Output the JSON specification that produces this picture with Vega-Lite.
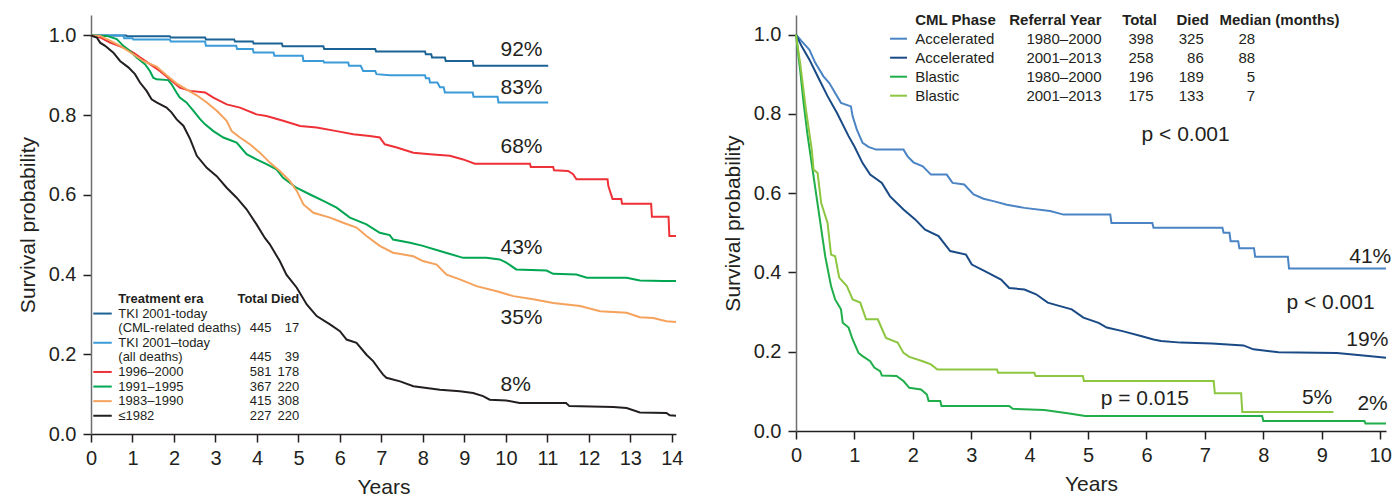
{
  "$schema": "https://vega.github.io/schema/vega-lite/v6.json",
  "background": "white",
  "padding": {"left": 17, "top": 12, "right": 5, "bottom": 0},
  "spacing": 39,
  "config": {
    "view": {"stroke": null},
    "font": "Liberation Sans",
    "axis": {
      "labelFont": "Liberation Sans", "labelFontSize": 20, "labelColor": "#231f20",
      "titleFont": "Liberation Sans", "titleFontSize": 21, "titleFontWeight": "normal", "titleColor": "#231f20",
      "grid": false, "tickSize": 8, "tickColor": "#231f20", "tickWidth": 1.5,
      "domainColor": "#231f20", "domainWidth": 1.5, "labelPadding": 6, "labelFlush": false, "labelOverlap": false
    }
  },
  "resolve": {"scale": {"color": "independent"}},
  "datasets": {
    "left_curves": [
      {"era": "TKI CML-related", "years": 0, "survival": 1.0},
      {"era": "TKI CML-related", "years": 0.85, "survival": 1.0},
      {"era": "TKI CML-related", "years": 0.87, "survival": 0.998},
      {"era": "TKI CML-related", "years": 1.9, "survival": 0.998},
      {"era": "TKI CML-related", "years": 1.92, "survival": 0.995},
      {"era": "TKI CML-related", "years": 2.75, "survival": 0.995},
      {"era": "TKI CML-related", "years": 2.77, "survival": 0.99},
      {"era": "TKI CML-related", "years": 3.45, "survival": 0.99},
      {"era": "TKI CML-related", "years": 3.47, "survival": 0.985},
      {"era": "TKI CML-related", "years": 3.9, "survival": 0.985},
      {"era": "TKI CML-related", "years": 3.92, "survival": 0.98},
      {"era": "TKI CML-related", "years": 4.6, "survival": 0.98},
      {"era": "TKI CML-related", "years": 4.62, "survival": 0.973},
      {"era": "TKI CML-related", "years": 5.6, "survival": 0.973},
      {"era": "TKI CML-related", "years": 5.62, "survival": 0.966},
      {"era": "TKI CML-related", "years": 6.85, "survival": 0.966},
      {"era": "TKI CML-related", "years": 6.87, "survival": 0.96},
      {"era": "TKI CML-related", "years": 8.05, "survival": 0.96},
      {"era": "TKI CML-related", "years": 8.07, "survival": 0.953},
      {"era": "TKI CML-related", "years": 8.2, "survival": 0.953},
      {"era": "TKI CML-related", "years": 8.22, "survival": 0.945},
      {"era": "TKI CML-related", "years": 8.53, "survival": 0.945},
      {"era": "TKI CML-related", "years": 8.55, "survival": 0.936},
      {"era": "TKI CML-related", "years": 9.2, "survival": 0.936},
      {"era": "TKI CML-related", "years": 9.22, "survival": 0.924},
      {"era": "TKI CML-related", "years": 11.02, "survival": 0.924},

      {"era": "TKI all deaths", "years": 0, "survival": 1.0},
      {"era": "TKI all deaths", "years": 0.78, "survival": 1.0},
      {"era": "TKI all deaths", "years": 0.8, "survival": 0.993},
      {"era": "TKI all deaths", "years": 1.0, "survival": 0.993},
      {"era": "TKI all deaths", "years": 1.02, "survival": 0.99},
      {"era": "TKI all deaths", "years": 1.9, "survival": 0.99},
      {"era": "TKI all deaths", "years": 1.92, "survival": 0.985},
      {"era": "TKI all deaths", "years": 2.75, "survival": 0.985},
      {"era": "TKI all deaths", "years": 2.77, "survival": 0.974},
      {"era": "TKI all deaths", "years": 3.5, "survival": 0.974},
      {"era": "TKI all deaths", "years": 3.52, "survival": 0.966},
      {"era": "TKI all deaths", "years": 3.9, "survival": 0.966},
      {"era": "TKI all deaths", "years": 3.92, "survival": 0.957},
      {"era": "TKI all deaths", "years": 4.4, "survival": 0.957},
      {"era": "TKI all deaths", "years": 4.42, "survival": 0.949},
      {"era": "TKI all deaths", "years": 5.1, "survival": 0.949},
      {"era": "TKI all deaths", "years": 5.12, "survival": 0.936},
      {"era": "TKI all deaths", "years": 5.6, "survival": 0.936},
      {"era": "TKI all deaths", "years": 5.62, "survival": 0.932},
      {"era": "TKI all deaths", "years": 6.2, "survival": 0.932},
      {"era": "TKI all deaths", "years": 6.22, "survival": 0.924},
      {"era": "TKI all deaths", "years": 6.5, "survival": 0.924},
      {"era": "TKI all deaths", "years": 6.56, "survival": 0.911},
      {"era": "TKI all deaths", "years": 6.85, "survival": 0.911},
      {"era": "TKI all deaths", "years": 6.88, "survival": 0.903},
      {"era": "TKI all deaths", "years": 7.2, "survival": 0.9},
      {"era": "TKI all deaths", "years": 8.05, "survival": 0.9},
      {"era": "TKI all deaths", "years": 8.07, "survival": 0.893},
      {"era": "TKI all deaths", "years": 8.15, "survival": 0.893},
      {"era": "TKI all deaths", "years": 8.17, "survival": 0.882},
      {"era": "TKI all deaths", "years": 8.35, "survival": 0.882},
      {"era": "TKI all deaths", "years": 8.41, "survival": 0.87},
      {"era": "TKI all deaths", "years": 8.5, "survival": 0.87},
      {"era": "TKI all deaths", "years": 8.53, "survival": 0.857},
      {"era": "TKI all deaths", "years": 9.2, "survival": 0.857},
      {"era": "TKI all deaths", "years": 9.22, "survival": 0.846},
      {"era": "TKI all deaths", "years": 9.8, "survival": 0.846},
      {"era": "TKI all deaths", "years": 9.82, "survival": 0.832},
      {"era": "TKI all deaths", "years": 11.02, "survival": 0.832},

      {"era": "1996–2000", "years": 0, "survival": 1.0},
      {"era": "1996–2000", "years": 0.22, "survival": 0.995},
      {"era": "1996–2000", "years": 0.46, "survival": 0.982},
      {"era": "1996–2000", "years": 0.78, "survival": 0.97},
      {"era": "1996–2000", "years": 1.02, "survival": 0.957},
      {"era": "1996–2000", "years": 1.18, "survival": 0.945},
      {"era": "1996–2000", "years": 1.42, "survival": 0.928},
      {"era": "1996–2000", "years": 1.66, "survival": 0.911},
      {"era": "1996–2000", "years": 1.9, "survival": 0.89},
      {"era": "1996–2000", "years": 2.14, "survival": 0.869},
      {"era": "1996–2000", "years": 2.39, "survival": 0.861},
      {"era": "1996–2000", "years": 2.75, "survival": 0.857},
      {"era": "1996–2000", "years": 2.95, "survival": 0.844},
      {"era": "1996–2000", "years": 3.27, "survival": 0.827},
      {"era": "1996–2000", "years": 3.59, "survival": 0.819},
      {"era": "1996–2000", "years": 3.99, "survival": 0.802},
      {"era": "1996–2000", "years": 4.23, "survival": 0.798},
      {"era": "1996–2000", "years": 4.63, "survival": 0.786},
      {"era": "1996–2000", "years": 5.04, "survival": 0.773},
      {"era": "1996–2000", "years": 5.44, "survival": 0.769},
      {"era": "1996–2000", "years": 5.92, "survival": 0.76},
      {"era": "1996–2000", "years": 6.32, "survival": 0.752},
      {"era": "1996–2000", "years": 6.72, "survival": 0.748},
      {"era": "1996–2000", "years": 6.96, "survival": 0.744},
      {"era": "1996–2000", "years": 7.08, "survival": 0.727},
      {"era": "1996–2000", "years": 7.37, "survival": 0.719},
      {"era": "1996–2000", "years": 7.77, "survival": 0.706},
      {"era": "1996–2000", "years": 8.17, "survival": 0.702},
      {"era": "1996–2000", "years": 8.65, "survival": 0.698},
      {"era": "1996–2000", "years": 8.97, "survival": 0.689},
      {"era": "1996–2000", "years": 9.25, "survival": 0.678},
      {"era": "1996–2000", "years": 10.58, "survival": 0.678},
      {"era": "1996–2000", "years": 10.6, "survival": 0.67},
      {"era": "1996–2000", "years": 11.14, "survival": 0.67},
      {"era": "1996–2000", "years": 11.16, "survival": 0.662},
      {"era": "1996–2000", "years": 11.5, "survival": 0.66},
      {"era": "1996–2000", "years": 11.62, "survival": 0.652},
      {"era": "1996–2000", "years": 11.7, "survival": 0.639},
      {"era": "1996–2000", "years": 12.45, "survival": 0.639},
      {"era": "1996–2000", "years": 12.47, "survival": 0.622},
      {"era": "1996–2000", "years": 12.52, "survival": 0.606},
      {"era": "1996–2000", "years": 12.57, "survival": 0.59},
      {"era": "1996–2000", "years": 12.78, "survival": 0.59},
      {"era": "1996–2000", "years": 12.8, "survival": 0.578},
      {"era": "1996–2000", "years": 13.5, "survival": 0.578},
      {"era": "1996–2000", "years": 13.52, "survival": 0.545},
      {"era": "1996–2000", "years": 13.92, "survival": 0.545},
      {"era": "1996–2000", "years": 13.94, "survival": 0.497},
      {"era": "1996–2000", "years": 14.1, "survival": 0.497},

      {"era": "1991–1995", "years": 0, "survival": 1.0},
      {"era": "1991–1995", "years": 0.38, "survival": 0.999},
      {"era": "1991–1995", "years": 0.62, "survival": 0.991},
      {"era": "1991–1995", "years": 0.78, "survival": 0.974},
      {"era": "1991–1995", "years": 0.94, "survival": 0.961},
      {"era": "1991–1995", "years": 1.1, "survival": 0.945},
      {"era": "1991–1995", "years": 1.3, "survival": 0.928},
      {"era": "1991–1995", "years": 1.42, "survival": 0.911},
      {"era": "1991–1995", "years": 1.5, "survival": 0.894},
      {"era": "1991–1995", "years": 1.58, "survival": 0.89},
      {"era": "1991–1995", "years": 1.86, "survival": 0.888},
      {"era": "1991–1995", "years": 1.94, "survival": 0.878},
      {"era": "1991–1995", "years": 2.06, "survival": 0.857},
      {"era": "1991–1995", "years": 2.14, "survival": 0.844},
      {"era": "1991–1995", "years": 2.3, "survival": 0.832},
      {"era": "1991–1995", "years": 2.47, "survival": 0.811},
      {"era": "1991–1995", "years": 2.63, "survival": 0.79},
      {"era": "1991–1995", "years": 2.75, "survival": 0.777},
      {"era": "1991–1995", "years": 2.95, "survival": 0.76},
      {"era": "1991–1995", "years": 3.19, "survival": 0.744},
      {"era": "1991–1995", "years": 3.51, "survival": 0.731},
      {"era": "1991–1995", "years": 3.75, "survival": 0.702},
      {"era": "1991–1995", "years": 3.99, "survival": 0.689},
      {"era": "1991–1995", "years": 4.23, "survival": 0.677},
      {"era": "1991–1995", "years": 4.47, "survival": 0.664},
      {"era": "1991–1995", "years": 4.63, "survival": 0.643},
      {"era": "1991–1995", "years": 4.95, "survival": 0.618},
      {"era": "1991–1995", "years": 5.28, "survival": 0.601},
      {"era": "1991–1995", "years": 5.6, "survival": 0.585},
      {"era": "1991–1995", "years": 5.92, "survival": 0.568},
      {"era": "1991–1995", "years": 6.24, "survival": 0.543},
      {"era": "1991–1995", "years": 6.64, "survival": 0.526},
      {"era": "1991–1995", "years": 6.96, "survival": 0.505},
      {"era": "1991–1995", "years": 7.2, "survival": 0.499},
      {"era": "1991–1995", "years": 7.28, "survival": 0.488},
      {"era": "1991–1995", "years": 7.69, "survival": 0.48},
      {"era": "1991–1995", "years": 8.0, "survival": 0.472},
      {"era": "1991–1995", "years": 8.41, "survival": 0.459},
      {"era": "1991–1995", "years": 8.97, "survival": 0.442},
      {"era": "1991–1995", "years": 9.53, "survival": 0.442},
      {"era": "1991–1995", "years": 9.85, "survival": 0.438},
      {"era": "1991–1995", "years": 10.01, "survival": 0.43},
      {"era": "1991–1995", "years": 10.25, "survival": 0.413},
      {"era": "1991–1995", "years": 10.98, "survival": 0.41},
      {"era": "1991–1995", "years": 11.14, "survival": 0.402},
      {"era": "1991–1995", "years": 11.7, "survival": 0.4},
      {"era": "1991–1995", "years": 11.95, "survival": 0.392},
      {"era": "1991–1995", "years": 12.91, "survival": 0.392},
      {"era": "1991–1995", "years": 13.23, "survival": 0.385},
      {"era": "1991–1995", "years": 13.79, "survival": 0.384},
      {"era": "1991–1995", "years": 14.1, "survival": 0.384},

      {"era": "1983–1990", "years": 0, "survival": 1.0},
      {"era": "1983–1990", "years": 0.22, "survival": 0.999},
      {"era": "1983–1990", "years": 0.46, "survival": 0.987},
      {"era": "1983–1990", "years": 0.7, "survival": 0.974},
      {"era": "1983–1990", "years": 1.02, "survival": 0.953},
      {"era": "1983–1990", "years": 1.26, "survival": 0.936},
      {"era": "1983–1990", "years": 1.58, "survival": 0.922},
      {"era": "1983–1990", "years": 1.82, "survival": 0.9},
      {"era": "1983–1990", "years": 2.06, "survival": 0.88},
      {"era": "1983–1990", "years": 2.3, "survival": 0.865},
      {"era": "1983–1990", "years": 2.55, "survival": 0.85},
      {"era": "1983–1990", "years": 2.79, "survival": 0.832},
      {"era": "1983–1990", "years": 3.03, "survival": 0.811},
      {"era": "1983–1990", "years": 3.27, "survival": 0.786},
      {"era": "1983–1990", "years": 3.39, "survival": 0.76},
      {"era": "1983–1990", "years": 3.59, "survival": 0.744},
      {"era": "1983–1990", "years": 3.83, "survival": 0.727},
      {"era": "1983–1990", "years": 4.07, "survival": 0.706},
      {"era": "1983–1990", "years": 4.31, "survival": 0.681},
      {"era": "1983–1990", "years": 4.55, "survival": 0.66},
      {"era": "1983–1990", "years": 4.79, "survival": 0.635},
      {"era": "1983–1990", "years": 4.96, "survival": 0.61},
      {"era": "1983–1990", "years": 5.12, "survival": 0.576},
      {"era": "1983–1990", "years": 5.36, "survival": 0.555},
      {"era": "1983–1990", "years": 5.76, "survival": 0.543},
      {"era": "1983–1990", "years": 6.08, "survival": 0.53},
      {"era": "1983–1990", "years": 6.4, "survival": 0.518},
      {"era": "1983–1990", "years": 6.64, "survival": 0.497},
      {"era": "1983–1990", "years": 6.96, "survival": 0.472},
      {"era": "1983–1990", "years": 7.28, "survival": 0.455},
      {"era": "1983–1990", "years": 7.77, "survival": 0.446},
      {"era": "1983–1990", "years": 8.0, "survival": 0.434},
      {"era": "1983–1990", "years": 8.33, "survival": 0.425},
      {"era": "1983–1990", "years": 8.57, "survival": 0.4},
      {"era": "1983–1990", "years": 8.89, "survival": 0.388},
      {"era": "1983–1990", "years": 9.29, "survival": 0.371},
      {"era": "1983–1990", "years": 9.78, "survival": 0.358},
      {"era": "1983–1990", "years": 10.18, "survival": 0.346},
      {"era": "1983–1990", "years": 10.66, "survival": 0.338},
      {"era": "1983–1990", "years": 11.14, "survival": 0.329},
      {"era": "1983–1990", "years": 11.79, "survival": 0.321},
      {"era": "1983–1990", "years": 12.27, "survival": 0.308},
      {"era": "1983–1990", "years": 12.91, "survival": 0.304},
      {"era": "1983–1990", "years": 13.23, "survival": 0.293},
      {"era": "1983–1990", "years": 13.55, "survival": 0.291},
      {"era": "1983–1990", "years": 13.87, "survival": 0.283},
      {"era": "1983–1990", "years": 14.1, "survival": 0.281},

      {"era": "≤1982", "years": 0, "survival": 1.0},
      {"era": "≤1982", "years": 0.14, "survival": 0.995},
      {"era": "≤1982", "years": 0.22, "survival": 0.982},
      {"era": "≤1982", "years": 0.34, "survival": 0.974},
      {"era": "≤1982", "years": 0.54, "survival": 0.957},
      {"era": "≤1982", "years": 0.7, "survival": 0.936},
      {"era": "≤1982", "years": 0.9, "survival": 0.92},
      {"era": "≤1982", "years": 1.06, "survival": 0.903},
      {"era": "≤1982", "years": 1.18, "survival": 0.882},
      {"era": "≤1982", "years": 1.34, "survival": 0.861},
      {"era": "≤1982", "years": 1.46, "survival": 0.84},
      {"era": "≤1982", "years": 1.58, "survival": 0.832},
      {"era": "≤1982", "years": 1.82, "survival": 0.819},
      {"era": "≤1982", "years": 1.94, "survival": 0.807},
      {"era": "≤1982", "years": 2.06, "survival": 0.79},
      {"era": "≤1982", "years": 2.23, "survival": 0.773},
      {"era": "≤1982", "years": 2.39, "survival": 0.74},
      {"era": "≤1982", "years": 2.55, "survival": 0.698},
      {"era": "≤1982", "years": 2.79, "survival": 0.668},
      {"era": "≤1982", "years": 3.03, "survival": 0.647},
      {"era": "≤1982", "years": 3.27, "survival": 0.618},
      {"era": "≤1982", "years": 3.51, "survival": 0.593},
      {"era": "≤1982", "years": 3.75, "survival": 0.564},
      {"era": "≤1982", "years": 3.99, "survival": 0.526},
      {"era": "≤1982", "years": 4.19, "survival": 0.492},
      {"era": "≤1982", "years": 4.31, "survival": 0.476},
      {"era": "≤1982", "years": 4.55, "survival": 0.434},
      {"era": "≤1982", "years": 4.71, "survival": 0.4},
      {"era": "≤1982", "years": 4.96, "survival": 0.367},
      {"era": "≤1982", "years": 5.2, "survival": 0.325},
      {"era": "≤1982", "years": 5.44, "survival": 0.296},
      {"era": "≤1982", "years": 5.76, "survival": 0.275},
      {"era": "≤1982", "years": 6.0, "survival": 0.258},
      {"era": "≤1982", "years": 6.16, "survival": 0.237},
      {"era": "≤1982", "years": 6.4, "survival": 0.229},
      {"era": "≤1982", "years": 6.64, "survival": 0.199},
      {"era": "≤1982", "years": 6.8, "survival": 0.183},
      {"era": "≤1982", "years": 6.96, "survival": 0.16},
      {"era": "≤1982", "years": 7.04, "survival": 0.149},
      {"era": "≤1982", "years": 7.12, "survival": 0.141},
      {"era": "≤1982", "years": 7.45, "survival": 0.132},
      {"era": "≤1982", "years": 7.77, "survival": 0.12},
      {"era": "≤1982", "years": 8.41, "survival": 0.111},
      {"era": "≤1982", "years": 8.89, "survival": 0.107},
      {"era": "≤1982", "years": 9.21, "survival": 0.103},
      {"era": "≤1982", "years": 9.45, "survival": 0.095},
      {"era": "≤1982", "years": 9.61, "survival": 0.086},
      {"era": "≤1982", "years": 10.01, "survival": 0.084},
      {"era": "≤1982", "years": 10.33, "survival": 0.078},
      {"era": "≤1982", "years": 11.45, "survival": 0.078},
      {"era": "≤1982", "years": 11.53, "survival": 0.07},
      {"era": "≤1982", "years": 12.59, "survival": 0.068},
      {"era": "≤1982", "years": 12.91, "survival": 0.065},
      {"era": "≤1982", "years": 13.23, "survival": 0.054},
      {"era": "≤1982", "years": 13.87, "survival": 0.053},
      {"era": "≤1982", "years": 13.95, "survival": 0.047},
      {"era": "≤1982", "years": 14.1, "survival": 0.046}
    ],
    "left_labels": [
      {"label": "92%", "years": 9.87, "survival": 0.963},
      {"label": "83%", "years": 9.87, "survival": 0.869},
      {"label": "68%", "years": 9.87, "survival": 0.719},
      {"label": "43%", "years": 9.87, "survival": 0.466},
      {"label": "35%", "years": 9.87, "survival": 0.291},
      {"label": "8%", "years": 9.87, "survival": 0.124}
    ],
    "left_legend": [
      {"line": 1, "label": "TKI 2001-today", "era": "TKI CML-related"},
      {"line": 2, "label": "(CML-related deaths)", "total": "445", "died": "17"},
      {"line": 3, "label": "TKI 2001–today", "era": "TKI all deaths"},
      {"line": 4, "label": "(all deaths)", "total": "445", "died": "39"},
      {"line": 5, "label": "1996–2000", "era": "1996–2000", "total": "581", "died": "178"},
      {"line": 6, "label": "1991–1995", "era": "1991–1995", "total": "367", "died": "220"},
      {"line": 7, "label": "1983–1990", "era": "1983–1990", "total": "415", "died": "308"},
      {"line": 8, "label": "≤1982", "era": "≤1982", "total": "227", "died": "220"}
    ],
    "right_curves": [
      {"group": "Accelerated 1980–2000", "years": 0, "survival": 1.0},
      {"group": "Accelerated 1980–2000", "years": 0.1, "survival": 0.983},
      {"group": "Accelerated 1980–2000", "years": 0.23, "survival": 0.962},
      {"group": "Accelerated 1980–2000", "years": 0.33, "survival": 0.929},
      {"group": "Accelerated 1980–2000", "years": 0.47, "survival": 0.895},
      {"group": "Accelerated 1980–2000", "years": 0.57, "survival": 0.878},
      {"group": "Accelerated 1980–2000", "years": 0.77, "survival": 0.828},
      {"group": "Accelerated 1980–2000", "years": 0.94, "survival": 0.819},
      {"group": "Accelerated 1980–2000", "years": 0.97, "survival": 0.794},
      {"group": "Accelerated 1980–2000", "years": 1.04, "survival": 0.761},
      {"group": "Accelerated 1980–2000", "years": 1.14, "survival": 0.727},
      {"group": "Accelerated 1980–2000", "years": 1.24, "survival": 0.717},
      {"group": "Accelerated 1980–2000", "years": 1.37, "survival": 0.71},
      {"group": "Accelerated 1980–2000", "years": 1.84, "survival": 0.71},
      {"group": "Accelerated 1980–2000", "years": 1.91, "survival": 0.693},
      {"group": "Accelerated 1980–2000", "years": 2.01, "survival": 0.678},
      {"group": "Accelerated 1980–2000", "years": 2.17, "survival": 0.668},
      {"group": "Accelerated 1980–2000", "years": 2.31, "survival": 0.647},
      {"group": "Accelerated 1980–2000", "years": 2.58, "survival": 0.647},
      {"group": "Accelerated 1980–2000", "years": 2.68, "survival": 0.626},
      {"group": "Accelerated 1980–2000", "years": 2.88, "survival": 0.622},
      {"group": "Accelerated 1980–2000", "years": 3.04, "survival": 0.597},
      {"group": "Accelerated 1980–2000", "years": 3.21, "survival": 0.586},
      {"group": "Accelerated 1980–2000", "years": 3.38, "survival": 0.58},
      {"group": "Accelerated 1980–2000", "years": 3.61, "survival": 0.571},
      {"group": "Accelerated 1980–2000", "years": 3.91, "survival": 0.563},
      {"group": "Accelerated 1980–2000", "years": 4.35, "survival": 0.555},
      {"group": "Accelerated 1980–2000", "years": 4.58, "survival": 0.546},
      {"group": "Accelerated 1980–2000", "years": 5.38, "survival": 0.546},
      {"group": "Accelerated 1980–2000", "years": 5.4, "survival": 0.525},
      {"group": "Accelerated 1980–2000", "years": 6.1, "survival": 0.525},
      {"group": "Accelerated 1980–2000", "years": 6.12, "survival": 0.513},
      {"group": "Accelerated 1980–2000", "years": 7.3, "survival": 0.513},
      {"group": "Accelerated 1980–2000", "years": 7.32, "survival": 0.5},
      {"group": "Accelerated 1980–2000", "years": 7.42, "survival": 0.5},
      {"group": "Accelerated 1980–2000", "years": 7.44, "survival": 0.479},
      {"group": "Accelerated 1980–2000", "years": 7.57, "survival": 0.479},
      {"group": "Accelerated 1980–2000", "years": 7.59, "survival": 0.461},
      {"group": "Accelerated 1980–2000", "years": 7.84, "survival": 0.461},
      {"group": "Accelerated 1980–2000", "years": 7.86, "survival": 0.44},
      {"group": "Accelerated 1980–2000", "years": 8.42, "survival": 0.44},
      {"group": "Accelerated 1980–2000", "years": 8.44, "survival": 0.41},
      {"group": "Accelerated 1980–2000", "years": 10.1, "survival": 0.41},

      {"group": "Accelerated 2001–2013", "years": 0, "survival": 1.0},
      {"group": "Accelerated 2001–2013", "years": 0.1, "survival": 0.97},
      {"group": "Accelerated 2001–2013", "years": 0.23, "survival": 0.937},
      {"group": "Accelerated 2001–2013", "years": 0.37, "survival": 0.895},
      {"group": "Accelerated 2001–2013", "years": 0.54, "survival": 0.845},
      {"group": "Accelerated 2001–2013", "years": 0.7, "survival": 0.803},
      {"group": "Accelerated 2001–2013", "years": 0.9, "survival": 0.744},
      {"group": "Accelerated 2001–2013", "years": 1.0, "survival": 0.718},
      {"group": "Accelerated 2001–2013", "years": 1.14, "survival": 0.676},
      {"group": "Accelerated 2001–2013", "years": 1.27, "survival": 0.647},
      {"group": "Accelerated 2001–2013", "years": 1.47, "survival": 0.626},
      {"group": "Accelerated 2001–2013", "years": 1.61, "survival": 0.592},
      {"group": "Accelerated 2001–2013", "years": 1.84, "survival": 0.559},
      {"group": "Accelerated 2001–2013", "years": 2.04, "survival": 0.534},
      {"group": "Accelerated 2001–2013", "years": 2.21, "survival": 0.508},
      {"group": "Accelerated 2001–2013", "years": 2.44, "survival": 0.492},
      {"group": "Accelerated 2001–2013", "years": 2.64, "survival": 0.454},
      {"group": "Accelerated 2001–2013", "years": 2.91, "survival": 0.445},
      {"group": "Accelerated 2001–2013", "years": 3.01, "survival": 0.42},
      {"group": "Accelerated 2001–2013", "years": 3.24, "survival": 0.403},
      {"group": "Accelerated 2001–2013", "years": 3.51, "survival": 0.382},
      {"group": "Accelerated 2001–2013", "years": 3.65, "survival": 0.361},
      {"group": "Accelerated 2001–2013", "years": 3.91, "survival": 0.357},
      {"group": "Accelerated 2001–2013", "years": 4.11, "survival": 0.345},
      {"group": "Accelerated 2001–2013", "years": 4.31, "survival": 0.324},
      {"group": "Accelerated 2001–2013", "years": 4.52, "survival": 0.315},
      {"group": "Accelerated 2001–2013", "years": 4.72, "survival": 0.307},
      {"group": "Accelerated 2001–2013", "years": 4.92, "survival": 0.286},
      {"group": "Accelerated 2001–2013", "years": 5.18, "survival": 0.273},
      {"group": "Accelerated 2001–2013", "years": 5.32, "survival": 0.261},
      {"group": "Accelerated 2001–2013", "years": 5.59, "survival": 0.252},
      {"group": "Accelerated 2001–2013", "years": 5.92, "survival": 0.239},
      {"group": "Accelerated 2001–2013", "years": 6.12, "survival": 0.231},
      {"group": "Accelerated 2001–2013", "years": 6.25, "survival": 0.227},
      {"group": "Accelerated 2001–2013", "years": 6.59, "survival": 0.223},
      {"group": "Accelerated 2001–2013", "years": 7.12, "survival": 0.221},
      {"group": "Accelerated 2001–2013", "years": 7.66, "survival": 0.216},
      {"group": "Accelerated 2001–2013", "years": 7.83, "survival": 0.206},
      {"group": "Accelerated 2001–2013", "years": 8.26, "survival": 0.199},
      {"group": "Accelerated 2001–2013", "years": 9.26, "survival": 0.197},
      {"group": "Accelerated 2001–2013", "years": 9.8, "survival": 0.189},
      {"group": "Accelerated 2001–2013", "years": 10.1, "survival": 0.185},

      {"group": "Blastic 1980–2000", "years": 0, "survival": 1.0},
      {"group": "Blastic 1980–2000", "years": 0.07, "survival": 0.912},
      {"group": "Blastic 1980–2000", "years": 0.13, "survival": 0.828},
      {"group": "Blastic 1980–2000", "years": 0.2, "survival": 0.744},
      {"group": "Blastic 1980–2000", "years": 0.3, "survival": 0.643},
      {"group": "Blastic 1980–2000", "years": 0.4, "survival": 0.542},
      {"group": "Blastic 1980–2000", "years": 0.5, "survival": 0.441},
      {"group": "Blastic 1980–2000", "years": 0.6, "survival": 0.366},
      {"group": "Blastic 1980–2000", "years": 0.67, "survival": 0.332},
      {"group": "Blastic 1980–2000", "years": 0.77, "survival": 0.307},
      {"group": "Blastic 1980–2000", "years": 0.8, "survival": 0.273},
      {"group": "Blastic 1980–2000", "years": 0.9, "survival": 0.261},
      {"group": "Blastic 1980–2000", "years": 0.97, "survival": 0.231},
      {"group": "Blastic 1980–2000", "years": 1.07, "survival": 0.197},
      {"group": "Blastic 1980–2000", "years": 1.14, "survival": 0.189},
      {"group": "Blastic 1980–2000", "years": 1.27, "survival": 0.176},
      {"group": "Blastic 1980–2000", "years": 1.34, "survival": 0.16},
      {"group": "Blastic 1980–2000", "years": 1.44, "survival": 0.151},
      {"group": "Blastic 1980–2000", "years": 1.47, "survival": 0.14},
      {"group": "Blastic 1980–2000", "years": 1.72, "survival": 0.139},
      {"group": "Blastic 1980–2000", "years": 1.84, "survival": 0.126},
      {"group": "Blastic 1980–2000", "years": 1.94, "survival": 0.109},
      {"group": "Blastic 1980–2000", "years": 2.14, "survival": 0.105},
      {"group": "Blastic 1980–2000", "years": 2.24, "survival": 0.092},
      {"group": "Blastic 1980–2000", "years": 2.27, "survival": 0.076},
      {"group": "Blastic 1980–2000", "years": 2.47, "survival": 0.076},
      {"group": "Blastic 1980–2000", "years": 2.49, "survival": 0.063},
      {"group": "Blastic 1980–2000", "years": 3.65, "survival": 0.063},
      {"group": "Blastic 1980–2000", "years": 3.71, "survival": 0.056},
      {"group": "Blastic 1980–2000", "years": 4.25, "survival": 0.053},
      {"group": "Blastic 1980–2000", "years": 4.65, "survival": 0.045},
      {"group": "Blastic 1980–2000", "years": 4.95, "survival": 0.038},
      {"group": "Blastic 1980–2000", "years": 7.98, "survival": 0.038},
      {"group": "Blastic 1980–2000", "years": 8.0, "survival": 0.025},
      {"group": "Blastic 1980–2000", "years": 9.73, "survival": 0.025},
      {"group": "Blastic 1980–2000", "years": 9.75, "survival": 0.019},
      {"group": "Blastic 1980–2000", "years": 10.1, "survival": 0.019},

      {"group": "Blastic 2001–2013", "years": 0, "survival": 1.0},
      {"group": "Blastic 2001–2013", "years": 0.07, "survival": 0.929},
      {"group": "Blastic 2001–2013", "years": 0.17, "survival": 0.811},
      {"group": "Blastic 2001–2013", "years": 0.27, "survival": 0.71},
      {"group": "Blastic 2001–2013", "years": 0.3, "survival": 0.66},
      {"group": "Blastic 2001–2013", "years": 0.37, "survival": 0.651},
      {"group": "Blastic 2001–2013", "years": 0.43, "survival": 0.576},
      {"group": "Blastic 2001–2013", "years": 0.54, "survival": 0.525},
      {"group": "Blastic 2001–2013", "years": 0.6, "survival": 0.445},
      {"group": "Blastic 2001–2013", "years": 0.67, "survival": 0.441},
      {"group": "Blastic 2001–2013", "years": 0.74, "survival": 0.387},
      {"group": "Blastic 2001–2013", "years": 0.87, "survival": 0.366},
      {"group": "Blastic 2001–2013", "years": 0.97, "survival": 0.332},
      {"group": "Blastic 2001–2013", "years": 1.1, "survival": 0.324},
      {"group": "Blastic 2001–2013", "years": 1.2, "survival": 0.282},
      {"group": "Blastic 2001–2013", "years": 1.4, "survival": 0.282},
      {"group": "Blastic 2001–2013", "years": 1.54, "survival": 0.235},
      {"group": "Blastic 2001–2013", "years": 1.74, "survival": 0.223},
      {"group": "Blastic 2001–2013", "years": 1.84, "survival": 0.197},
      {"group": "Blastic 2001–2013", "years": 1.94, "survival": 0.187},
      {"group": "Blastic 2001–2013", "years": 2.17, "survival": 0.176},
      {"group": "Blastic 2001–2013", "years": 2.31, "survival": 0.168},
      {"group": "Blastic 2001–2013", "years": 2.42, "survival": 0.155},
      {"group": "Blastic 2001–2013", "years": 3.44, "survival": 0.155},
      {"group": "Blastic 2001–2013", "years": 3.46, "survival": 0.147},
      {"group": "Blastic 2001–2013", "years": 4.08, "survival": 0.147},
      {"group": "Blastic 2001–2013", "years": 4.1, "survival": 0.139},
      {"group": "Blastic 2001–2013", "years": 4.91, "survival": 0.139},
      {"group": "Blastic 2001–2013", "years": 4.93, "survival": 0.126},
      {"group": "Blastic 2001–2013", "years": 7.15, "survival": 0.126},
      {"group": "Blastic 2001–2013", "years": 7.17, "survival": 0.095},
      {"group": "Blastic 2001–2013", "years": 7.62, "survival": 0.095},
      {"group": "Blastic 2001–2013", "years": 7.64, "survival": 0.048},
      {"group": "Blastic 2001–2013", "years": 9.2, "survival": 0.048}
    ],
    "right_labels": [
      {"label": "41%", "years": 9.83, "survival": 0.44},
      {"label": "19%", "years": 9.78, "survival": 0.229},
      {"label": "2%", "years": 9.87, "survival": 0.067},
      {"label": "5%", "years": 8.92, "survival": 0.084},
      {"label": "p < 0.001", "years": 6.67, "survival": 0.748},
      {"label": "p < 0.001", "years": 9.15, "survival": 0.322},
      {"label": "p = 0.015", "years": 5.97, "survival": 0.08}
    ],
    "right_legend": [
      {"line": 1, "phase": "Accelerated", "year": "1980–2000", "total": "398", "died": "325", "median": "28", "group": "Accelerated 1980–2000"},
      {"line": 2, "phase": "Accelerated", "year": "2001–2013", "total": "258", "died": "86", "median": "88", "group": "Accelerated 2001–2013"},
      {"line": 3, "phase": "Blastic", "year": "1980–2000", "total": "196", "died": "189", "median": "5", "group": "Blastic 1980–2000"},
      {"line": 4, "phase": "Blastic", "year": "2001–2013", "total": "175", "died": "133", "median": "7", "group": "Blastic 2001–2013"}
    ]
  },
  "hconcat": [
    {
      "width": 585,
      "height": 419,
      "resolve": {"scale": {"y": "independent"}},
      "layer": [
        {
          "layer": [
            {
              "data": {"name": "left_curves"},
              "mark": {"type": "line", "strokeWidth": 2, "interpolate": "linear"},
              "encoding": {
                "x": {"field": "years", "type": "quantitative",
                  "scale": {"domain": [0, 14.1], "nice": false, "zero": false},
                  "axis": {"title": "Years", "values": [0,1,2,3,4,5,6,7,8,9,10,11,12,13,14], "format": "d", "titlePadding": 8}},
                "y": {"field": "survival", "type": "quantitative",
                  "scale": {"domain": [0, 1.0514], "nice": false, "zero": false},
                  "axis": {"title": "Survival probability", "values": [0,0.2,0.4,0.6,0.8,1.0], "format": ".1f", "titlePadding": 10, "domainColor": "#6d6e71", "labelPadding": 7}},
                "color": {"field": "era", "type": "nominal", "legend": null,
                  "scale": {"domain": ["TKI CML-related","TKI all deaths","1996–2000","1991–1995","1983–1990","≤1982"],
                            "range": ["#1c6395","#3b9bd8","#ee3136","#00a651","#f5a25d","#231f20"]}}
              }
            },
            {
              "data": {"name": "left_labels"},
              "mark": {"type": "text", "align": "left", "baseline": "middle", "fontSize": 21, "font": "Liberation Sans", "color": "#231f20"},
              "encoding": {
                "x": {"field": "years", "type": "quantitative"},
                "y": {"field": "survival", "type": "quantitative"},
                "text": {"field": "label"}
              }
            }
          ]
        },
        {
          "layer": [
            {
              "data": {"name": "left_legend"},
              "transform": [{"filter": "isValid(datum.era)"}],
              "mark": {"type": "rule", "strokeWidth": 2},
              "encoding": {
                "x": {"datum": 0.055, "type": "quantitative"},
                "x2": {"datum": 0.5},
                "y": {"field": "line", "type": "quantitative", "axis": null,
                  "scale": {"domain": [-19.45, 9.25], "reverse": true, "nice": false, "zero": false}},
                "color": {"field": "era", "type": "nominal", "legend": null}
              }
            },
            {
              "data": {"name": "left_legend"},
              "mark": {"type": "text", "align": "left", "baseline": "middle", "fontSize": 13, "font": "Liberation Sans", "color": "#231f20"},
              "encoding": {
                "x": {"datum": 0.658, "type": "quantitative"},
                "y": {"field": "line", "type": "quantitative", "axis": null},
                "text": {"field": "label"}
              }
            },
            {
              "data": {"name": "left_legend"},
              "transform": [{"filter": "isValid(datum.total)"}],
              "mark": {"type": "text", "align": "right", "baseline": "middle", "fontSize": 13, "font": "Liberation Sans", "color": "#231f20"},
              "encoding": {
                "x": {"datum": 4.35, "type": "quantitative"},
                "y": {"field": "line", "type": "quantitative", "axis": null},
                "text": {"field": "total"}
              }
            },
            {
              "data": {"name": "left_legend"},
              "transform": [{"filter": "isValid(datum.died)"}],
              "mark": {"type": "text", "align": "right", "baseline": "middle", "fontSize": 13, "font": "Liberation Sans", "color": "#231f20"},
              "encoding": {
                "x": {"datum": 5.02, "type": "quantitative"},
                "y": {"field": "line", "type": "quantitative", "axis": null},
                "text": {"field": "died"}
              }
            },
            {
              "data": {"values": [{"line": 0, "head": "Treatment era"}]},
              "mark": {"type": "text", "align": "left", "baseline": "middle", "fontSize": 13, "fontWeight": "bold", "font": "Liberation Sans", "color": "#231f20"},
              "encoding": {
                "x": {"datum": 0.658, "type": "quantitative"},
                "y": {"field": "line", "type": "quantitative", "axis": null},
                "text": {"field": "head"}
              }
            },
            {
              "data": {"values": [{"line": 0, "head": "Total Died"}]},
              "mark": {"type": "text", "align": "right", "baseline": "middle", "fontSize": 13, "fontWeight": "bold", "font": "Liberation Sans", "color": "#231f20"},
              "encoding": {
                "x": {"datum": 5.02, "type": "quantitative"},
                "y": {"field": "line", "type": "quantitative", "axis": null},
                "text": {"field": "head"}
              }
            }
          ]
        }
      ]
    },
    {
      "width": 590,
      "height": 416,
      "resolve": {"scale": {"y": "independent"}},
      "layer": [
        {
          "layer": [
            {
              "data": {"name": "right_curves"},
              "mark": {"type": "line", "strokeWidth": 2, "interpolate": "linear"},
              "encoding": {
                "x": {"field": "years", "type": "quantitative",
                  "scale": {"domain": [0, 10.1], "nice": false, "zero": false},
                  "axis": {"title": "Years", "values": [0,1,2,3,4,5,6,7,8,9,10], "format": "d", "titlePadding": 8}},
                "y": {"field": "survival", "type": "quantitative",
                  "scale": {"domain": [0, 1.0497], "nice": false, "zero": false},
                  "axis": {"title": "Survival probability", "values": [0,0.2,0.4,0.6,0.8,1.0], "format": ".1f", "titlePadding": 10, "domainColor": "#6d6e71", "labelPadding": 7}},
                "color": {"field": "group", "type": "nominal", "legend": null,
                  "scale": {"domain": ["Accelerated 1980–2000","Accelerated 2001–2013","Blastic 1980–2000","Blastic 2001–2013"],
                            "range": ["#4a84c4","#1a4a85","#1fae4a","#8dc640"]}}
              }
            },
            {
              "data": {"name": "right_labels"},
              "mark": {"type": "text", "align": "center", "baseline": "middle", "fontSize": 21, "font": "Liberation Sans", "color": "#231f20"},
              "encoding": {
                "x": {"field": "years", "type": "quantitative"},
                "y": {"field": "survival", "type": "quantitative"},
                "text": {"field": "label"}
              }
            }
          ]
        },
        {
          "layer": [
            {
              "data": {"name": "right_legend"},
              "mark": {"type": "rule", "strokeWidth": 2},
              "encoding": {
                "x": {"datum": 1.61, "type": "quantitative"},
                "x2": {"datum": 1.9},
                "y": {"field": "line", "type": "quantitative", "axis": null,
                  "scale": {"domain": [-0.247, 21.645], "reverse": true, "nice": false, "zero": false}},
                "color": {"field": "group", "type": "nominal", "legend": null}
              }
            },
            {
              "data": {"name": "right_legend"},
              "mark": {"type": "text", "align": "left", "baseline": "middle", "fontSize": 15, "font": "Liberation Sans", "color": "#231f20"},
              "encoding": {
                "x": {"datum": 2.04, "type": "quantitative"},
                "y": {"field": "line", "type": "quantitative", "axis": null},
                "text": {"field": "phase"}
              }
            },
            {
              "data": {"name": "right_legend"},
              "mark": {"type": "text", "align": "right", "baseline": "middle", "fontSize": 15, "font": "Liberation Sans", "color": "#231f20"},
              "encoding": {
                "x": {"datum": 5.23, "type": "quantitative"},
                "y": {"field": "line", "type": "quantitative", "axis": null},
                "text": {"field": "year"}
              }
            },
            {
              "data": {"name": "right_legend"},
              "mark": {"type": "text", "align": "right", "baseline": "middle", "fontSize": 15, "font": "Liberation Sans", "color": "#231f20"},
              "encoding": {
                "x": {"datum": 6.12, "type": "quantitative"},
                "y": {"field": "line", "type": "quantitative", "axis": null},
                "text": {"field": "total"}
              }
            },
            {
              "data": {"name": "right_legend"},
              "mark": {"type": "text", "align": "right", "baseline": "middle", "fontSize": 15, "font": "Liberation Sans", "color": "#231f20"},
              "encoding": {
                "x": {"datum": 6.98, "type": "quantitative"},
                "y": {"field": "line", "type": "quantitative", "axis": null},
                "text": {"field": "died"}
              }
            },
            {
              "data": {"name": "right_legend"},
              "mark": {"type": "text", "align": "right", "baseline": "middle", "fontSize": 15, "font": "Liberation Sans", "color": "#231f20"},
              "encoding": {
                "x": {"datum": 7.86, "type": "quantitative"},
                "y": {"field": "line", "type": "quantitative", "axis": null},
                "text": {"field": "median"}
              }
            },
            {
              "data": {"values": [{"line": 0, "head": "CML Phase"}]},
              "mark": {"type": "text", "align": "left", "baseline": "middle", "fontSize": 15, "fontWeight": "bold", "font": "Liberation Sans", "color": "#231f20"},
              "encoding": {
                "x": {"datum": 2.04, "type": "quantitative"},
                "y": {"field": "line", "type": "quantitative", "axis": null},
                "text": {"field": "head"}
              }
            },
            {
              "data": {"values": [{"line": 0, "head": "Referral Year"}]},
              "mark": {"type": "text", "align": "right", "baseline": "middle", "fontSize": 15, "fontWeight": "bold", "font": "Liberation Sans", "color": "#231f20"},
              "encoding": {
                "x": {"datum": 5.23, "type": "quantitative"},
                "y": {"field": "line", "type": "quantitative", "axis": null},
                "text": {"field": "head"}
              }
            },
            {
              "data": {"values": [{"line": 0, "head": "Total"}]},
              "mark": {"type": "text", "align": "center", "baseline": "middle", "fontSize": 15, "fontWeight": "bold", "font": "Liberation Sans", "color": "#231f20"},
              "encoding": {
                "x": {"datum": 5.88, "type": "quantitative"},
                "y": {"field": "line", "type": "quantitative", "axis": null},
                "text": {"field": "head"}
              }
            },
            {
              "data": {"values": [{"line": 0, "head": "Died"}]},
              "mark": {"type": "text", "align": "center", "baseline": "middle", "fontSize": 15, "fontWeight": "bold", "font": "Liberation Sans", "color": "#231f20"},
              "encoding": {
                "x": {"datum": 6.79, "type": "quantitative"},
                "y": {"field": "line", "type": "quantitative", "axis": null},
                "text": {"field": "head"}
              }
            },
            {
              "data": {"values": [{"line": 0, "head": "Median (months)"}]},
              "mark": {"type": "text", "align": "left", "baseline": "middle", "fontSize": 15, "fontWeight": "bold", "font": "Liberation Sans", "color": "#231f20"},
              "encoding": {
                "x": {"datum": 7.25, "type": "quantitative"},
                "y": {"field": "line", "type": "quantitative", "axis": null},
                "text": {"field": "head"}
              }
            }
          ]
        }
      ]
    }
  ]
}
